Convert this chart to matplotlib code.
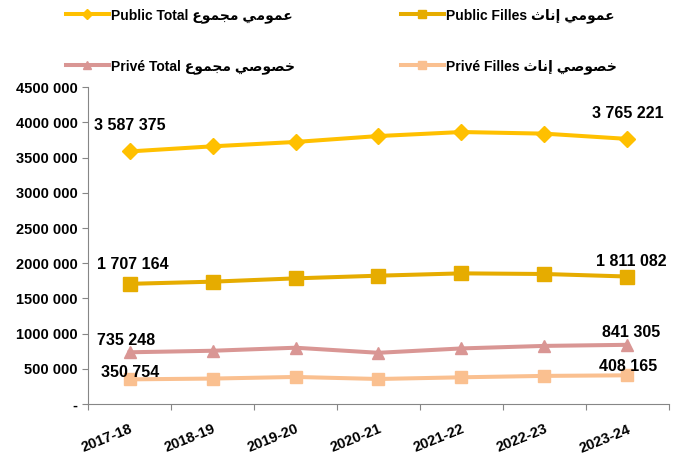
import matplotlib
matplotlib.use('Agg')
import matplotlib.pyplot as plt
from matplotlib.ticker import FixedLocator

plt.rcParams['font.family'] = ['Liberation Sans', 'DejaVu Sans']
plt.rcParams['font.weight'] = 'bold'

# Années scolaires
years = ['2017-18', '2018-19', '2019-20', '2020-21', '2021-22', '2022-23', '2023-24']

# Effectifs (sauf extrémités)
public_total = [3587375, 3660000, 3722000, 3806000, 3863000, 3840000, 3765221]
public_filles = [1707164, 1738000, 1785000, 1823000, 1856000, 1847000, 1811082]
prive_total = [735248, 757000, 800000, 728000, 790000, 826000, 841305]
prive_filles = [350754, 362000, 385000, 356000, 380000, 400000, 408165]

y_ticks = [0, 500000, 1000000, 1500000, 2000000, 2500000, 3000000, 3500000, 4000000, 4500000]
y_tick_labels = ['-', '500 000', '1000 000', '1500 000', '2000 000', '2500 000',
                 '3000 000', '3500 000', '4000 000', '4500 000']

# Arabe en formes de présentation, ordre visuel (matplotlib ne fait pas le shaping)
ar_omomi = '\uFEF2\uFEE3\uFEEE\uFEE4\uFECB'      # عمومي
ar_khosousi = '\uFEF2\uFEBB\uFEEE\uFEBC\uFEA7'   # خصوصي
ar_majmou = '\uFEC9\uFEEE\uFEE4\uFEA0\uFEE3'     # مجموع
ar_inath = '\uFE99\uFE8E\uFEE7\uFE87'            # إناث

labels = [
    'Public Total ' + ar_majmou + ' ' + ar_omomi,
    'Public Filles ' + ar_inath + ' ' + ar_omomi,
    'Privé Total ' + ar_majmou + ' ' + ar_khosousi,
    'Privé Filles ' + ar_inath + ' ' + ar_khosousi,
]


def fmt(v):
    return f'{v:,}'.replace(',', ' ')


fig = plt.figure(figsize=(6.84, 4.54), dpi=100)
ax = fig.add_axes([0.1287, 0.110, 0.8493, 0.698])

x = list(range(len(years)))
series = [
    (public_total, '#FFC000', 'D', 8.5, (0, 26), (0, 25)),
    (public_filles, '#E6AC00', 's', 9.5, (3, 19), (4, 15)),
    (prive_total, '#D99694', '^', 8.5, (-3, 12), (4, 12)),
    (prive_filles, '#FAC090', 's', 8.5, (1, 7), (1, 9)),
]

lines = []
for (vals, color, mk, ms, off_first, off_last), lab in zip(series, labels):
    ln, = ax.plot(x, vals, color=color, lw=2.9, marker=mk, markersize=ms,
                  markeredgecolor=color, label=lab)
    lines.append(ln)
    ax.annotate(fmt(vals[0]), (x[0], vals[0]), xytext=off_first,
                textcoords='offset pixels', ha='center', va='center',
                fontsize=11.5, fontweight='bold')
    ax.annotate(fmt(vals[-1]), (x[-1], vals[-1]), xytext=off_last,
                textcoords='offset pixels', ha='center', va='center',
                fontsize=11.5, fontweight='bold')

ax.set_xlim(-0.5, len(years) - 0.5)
ax.set_ylim(0, 4500000)
ax.set_yticks(y_ticks)
ax.set_yticklabels(y_tick_labels, fontsize=10.5, fontweight='bold')

ax.set_xticks([i - 0.5 for i in range(len(years) + 1)])
ax.set_xticklabels([])
ax.xaxis.set_minor_locator(FixedLocator(x))
ax.set_xticks(x, minor=True)
ax.set_xticklabels(years, minor=True, rotation=22, ha='right',
                   rotation_mode='anchor', fontsize=10.5, fontweight='bold')
ax.tick_params(axis='x', which='minor', length=0, pad=13)
ax.tick_params(axis='x', which='major', length=4, color='#868686')
ax.tick_params(axis='y', length=4, color='#868686')

for s in ['top', 'right']:
    ax.spines[s].set_visible(False)
for s in ['left', 'bottom']:
    ax.spines[s].set_color('#868686')

# ordre : ligne 1 = Public, ligne 2 = Privé (le remplissage se fait par colonne)
leg_order = [0, 2, 1, 3]
fig.legend(handles=[lines[i] for i in leg_order], loc='upper left',
           bbox_to_anchor=(0.078, 1.01), ncol=2, frameon=False,
           handlelength=3.1, handletextpad=0.15, labelspacing=2.6,
           columnspacing=7.6, markerscale=0.65,
           prop={'weight': 'bold', 'size': 10})

fig.savefig('out.png', dpi=100)
